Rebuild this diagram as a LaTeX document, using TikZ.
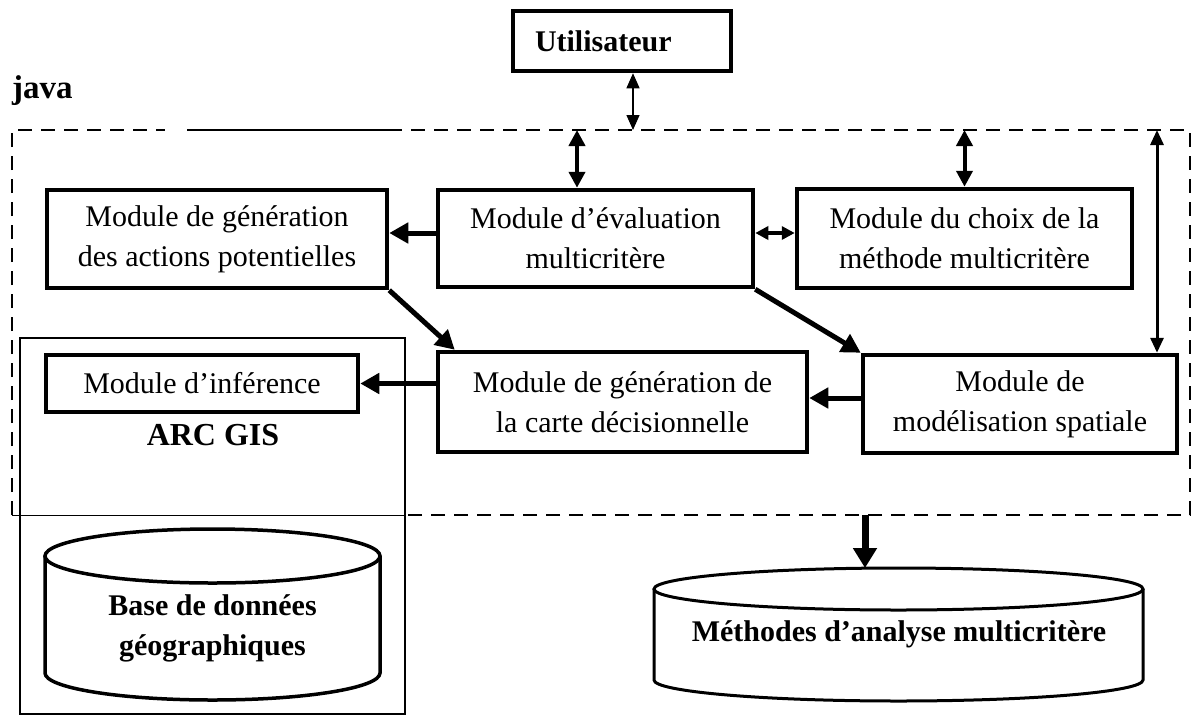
\documentclass[tikz,border=0pt]{standalone}
\usepackage{fontspec}
\setmainfont{Liberation Serif}
\usetikzlibrary{arrows.meta,calc}
\begin{document}
\begin{tikzpicture}[x=1pt,y=1pt,
  box/.style={draw, line width=4.5pt, rectangle, inner sep=0pt, align=center,
    font=\fontsize{30}{40}\selectfont},
  bold/.style={font=\bfseries\fontsize{30}{40}\selectfont, align=center, inner sep=0pt},
  frame/.style={line width=1.5pt, dash pattern=on 14pt off 9pt},
  flow/.style={line width=5pt, -{Triangle[length=19pt,width=20pt]}},
  bigflow/.style={line width=7pt, -{Triangle[length=20pt,width=23pt]}},
  vlink/.style={line width=4pt, {Triangle[length=16pt,width=16pt]}-{Triangle[length=16pt,width=16pt]}},
  longlink/.style={line width=3pt, {Triangle[length=15pt,width=13pt]}-{Triangle[length=15pt,width=13pt]}},
  hlink/.style={line width=3.5pt, {Triangle[length=13pt,width=13pt]}-{Triangle[length=13pt,width=13pt]}},
  ulink/.style={line width=1.3pt, {Triangle[length=15pt,width=13pt]}-{Triangle[length=15pt,width=13pt]}},
  cyl/.style={line width=3.5pt},
]
\useasboundingbox (0,0) rectangle (1192,-716);

% user box
\node[box, minimum width=218, minimum height=60, text width=174, align=left, inner xsep=22]
  (util) at (622,-41) {\bfseries Utilisateur};

% java frame
\node[anchor=base west, inner sep=0pt, font=\bfseries\fontsize{33}{40}\selectfont] (java) at (12,-98) {java};
\draw[frame] (12,-515) -- (12,-130) -- (165,-130);
\draw[line width=1.5pt] (187,-130) -- (388,-130);
\draw[frame] (388,-130) -- (1190,-130) -- (1190,-515) -- (405,-515);
\draw[line width=1pt] (405,-515) -- (12,-515);

% ARC GIS frame
\draw[line width=2pt] (20,-338) rectangle (405,-714);
\node[anchor=base, inner sep=0pt, font=\bfseries\fontsize{32}{40}\selectfont] (arc) at (213,-445) {ARC GIS};

% modules
\node[box, minimum width=340, minimum height=98] (actions) at (217,-239)
  {Module de génération\\des actions potentielles};
\node[box, minimum width=315, minimum height=97] (eval) at (595.5,-238.5)
  {Module d’évaluation\\multicritère};
\node[box, minimum width=335, minimum height=99] (choix) at (964.5,-238.5)
  {Module du choix de la\\méthode multicritère};
\node[box, minimum width=369, minimum height=100] (carte) at (622.5,-402)
  {Module de génération de\\la carte décisionnelle};
\node[box, minimum width=314, minimum height=98] (model) at (1020,-404)
  {Module de\\modélisation spatiale};
\node[box, minimum width=312, minimum height=57] (infer) at (202,-383.5)
  {Module d’inférence};

% geographic database
\draw[cyl] (45,-556) -- (45,-673) arc[start angle=180, end angle=360, x radius=167.5, y radius=27] -- (380,-556);
\draw[cyl] (212.5,-556) ellipse[x radius=167.5, y radius=27];
\node[bold] (bdd) at (212.5,-628) {Base de données\\géographiques};

% multicriteria methods store
\draw[line width=3pt] (654,-589) -- (654,-680) arc[start angle=180, end angle=360, x radius=244.5, y radius=21] -- (1143,-589);
\draw[line width=3pt] (898.5,-589) ellipse[x radius=244.5, y radius=21];
\node[bold] (meth) at (899,-634) {Méthodes d’analyse multicritère};
\coordinate (mtop) at (865,-568);

% frame anchor points
\coordinate (fu) at (633,-130);
\coordinate (fe) at (577,-130);
\coordinate (fc) at (964.5,-130);
\coordinate (fr) at (1157,-130);
\coordinate (fb) at (865,-515);

% connectors
\draw[ulink] (fu |- util.south) -- (fu);
\draw[vlink] (fe) -- (fe |- eval.north);
\draw[vlink] (fc) -- (choix.north);
\draw[longlink] (fr) -- (fr |- model.north);
\draw[flow] ([yshift=5.5]eval.west) -- ([yshift=5.5]eval.west -| actions.east);
\draw[hlink] ([yshift=5.5]eval.east) -- ([yshift=5.5]eval.east -| choix.west);
\draw[flow] (actions.south east) -- ([xshift=19]carte.north west);
\draw[flow] (eval.south east) -- (model.north west);
\draw[flow] ([yshift=6]model.west) -- ([yshift=6]model.west -| carte.east);
\draw[flow] (infer.east -| carte.west) -- (infer.east);
\draw[bigflow] (fb) -- (mtop);
\end{tikzpicture}
\end{document}
